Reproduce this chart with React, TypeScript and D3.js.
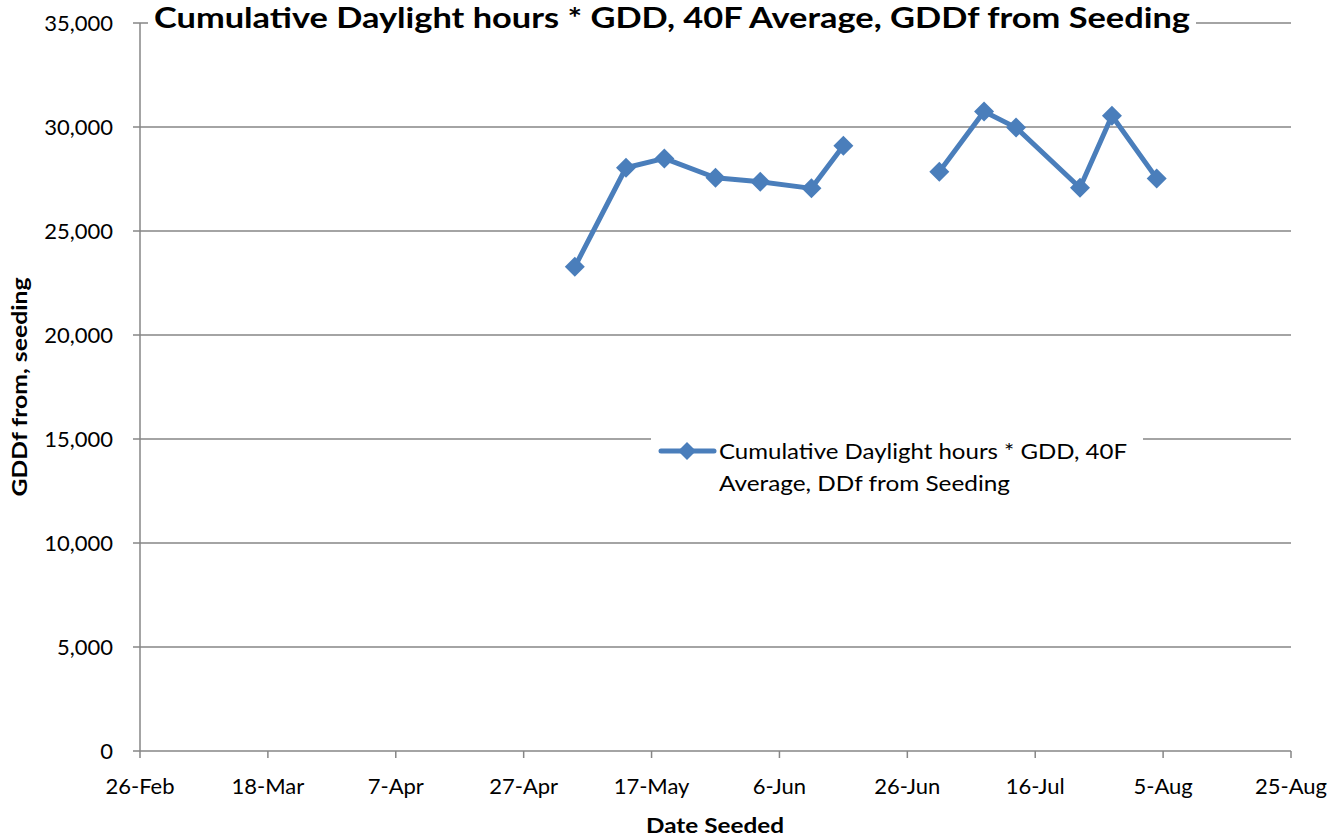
import React from "react";
import * as d3 from "d3";

const seedDates = [
  "2013-05-05", "2013-05-13", "2013-05-19", "2013-05-27", "2013-06-03",
  "2013-06-11", "2013-06-16", "2013-06-24", "2013-07-01", "2013-07-08",
  "2013-07-13", "2013-07-23", "2013-07-28", "2013-08-04",
];
const gddValues: (number | null)[] = [
  23280, 28040, 28490, 27560, 27370, 27050, 29100, null,
  27850, 30740, 29970, 27080, 30540, 27530,
];
const xTickLabels = ["26-Feb", "18-Mar", "7-Apr", "27-Apr", "17-May", "6-Jun", "26-Jun", "16-Jul", "5-Aug", "25-Aug"];
const yTickValues = [0, 5000, 10000, 15000, 20000, 25000, 30000, 35000];

const chartTitle = "Cumulative Daylight hours * GDD, 40F Average, GDDf from Seeding";
const legendLines = ["Cumulative Daylight hours * GDD, 40F", "Average, DDf from Seeding"];
const xTitle = "Date Seeded";
const yTitle = "GDDf from, seeding";

const W = 1342, H = 840;
const M = { left: 140, right: 1291, top: 23, bottom: 751 };
const FONT = "Lato, 'Open Sans', sans-serif";
const GRID = "#868686";
const BLUE = "#4A7EBB";

export default function App() {
  const parse = d3.timeParse("%Y-%m-%d");
  const start = parse("2013-02-26") as Date;
  const end = d3.timeDay.offset(start, 180);
  const x = d3.scaleTime().domain([start, end]).range([M.left, M.right]);
  const y = d3.scaleLinear().domain([0, 35000]).range([M.bottom, M.top]);
  const xTicks = xTickLabels.map((_, i) => d3.timeDay.offset(start, i * 20));
  const fmtY = d3.format(",");

  const data = seedDates.map((d, i) => ({ date: parse(d) as Date, value: gddValues[i] }));
  const line = d3
    .line<{ date: Date; value: number | null }>()
    .defined((d) => d.value !== null)
    .x((d) => x(d.date))
    .y((d) => y(d.value as number));

  const diamond = (cx: number, cy: number, r = 10) =>
    `M${cx},${cy - r}L${cx + r},${cy}L${cx},${cy + r}L${cx - r},${cy}Z`;

  const legendLens = [408, 291];

  return (
    <svg width={W} height={H} style={{ position: "absolute", left: 0, top: 0, background: "#fff" }}>
      {/* gridlines */}
      {yTickValues.map((v) => (
        <g key={v}>
          <line x1={M.left} x2={M.right} y1={y(v)} y2={y(v)} stroke={GRID} strokeWidth={1.5} />
          <line x1={M.left - 7} x2={M.left} y1={y(v)} y2={y(v)} stroke={GRID} strokeWidth={1.5} />
          <text x={113} y={y(v) + 8} textAnchor="end" fontFamily={FONT} fontSize={22} fill="#000">
            {fmtY(v)}
          </text>
        </g>
      ))}
      {/* y axis */}
      <line x1={M.left} x2={M.left} y1={M.top} y2={M.bottom} stroke={GRID} strokeWidth={1.5} />
      {/* x ticks */}
      {xTicks.map((t, i) => (
        <g key={i}>
          <line x1={x(t)} x2={x(t)} y1={M.bottom} y2={M.bottom + 7} stroke={GRID} strokeWidth={1.5} />
          <text x={x(t)} y={794} textAnchor="middle" fontFamily={FONT} fontSize={22} fill="#000">
            {xTickLabels[i]}
          </text>
        </g>
      ))}

      {/* title */}
      <rect x={148} y={0} width={1048} height={40} fill="#fff" />
      <text x={672} y={28} textAnchor="middle" fontFamily={FONT} fontWeight="bold" fontSize={29}
        textLength={1036} lengthAdjust="spacingAndGlyphs" fill="#000">
        {chartTitle}
      </text>

      {/* series */}
      <path d={line(data) || ""} fill="none" stroke={BLUE} strokeWidth={5} strokeLinejoin="round" />
      {data.filter((d) => d.value !== null).map((d, i) => (
        <path key={i} d={diamond(x(d.date), y(d.value as number))} fill={BLUE} />
      ))}

      {/* legend */}
      <rect x={651} y={428} width={492} height={76} fill="#fff" />
      <line x1={661} x2={714} y1={451} y2={451} stroke={BLUE} strokeWidth={5} strokeLinecap="round" />
      <path d={diamond(687, 451, 9)} fill={BLUE} />
      {legendLines.map((l, i) => (
        <text key={i} x={719} y={459 + i * 32} fontFamily={FONT} fontSize={21.5} fill="#000"
          textLength={legendLens[i]} lengthAdjust="spacingAndGlyphs">
          {l}
        </text>
      ))}

      {/* axis titles */}
      <text x={715} y={833} textAnchor="middle" fontFamily={FONT} fontWeight="bold" fontSize={21}
        textLength={138} lengthAdjust="spacingAndGlyphs" fill="#000">
        {xTitle}
      </text>
      <text transform="translate(27,387) rotate(-90)" textAnchor="middle" fontFamily={FONT} fontWeight="bold"
        fontSize={21} textLength={219} lengthAdjust="spacingAndGlyphs" fill="#000">
        {yTitle}
      </text>
    </svg>
  );
}
